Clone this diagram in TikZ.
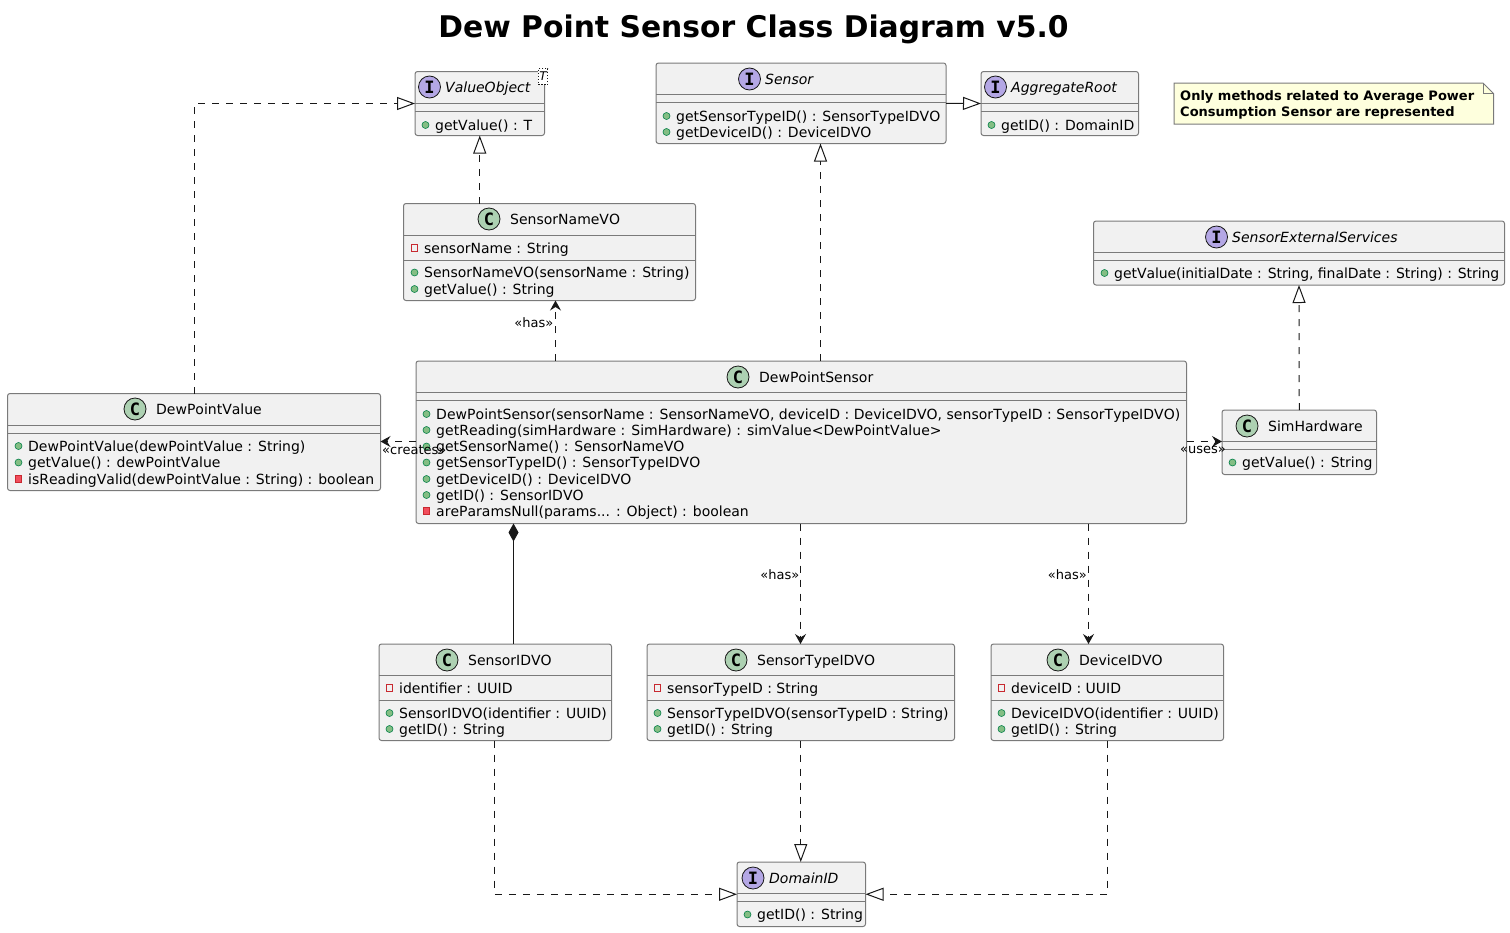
\documentclass[tikz,border=0pt]{standalone}
\usepackage{fontspec}
\setmainfont[Kerning=Off]{DejaVu Sans}
\setmonofont{DejaVu Sans Mono}
\usetikzlibrary{arrows.meta,fit}
\definecolor{boxfill}{HTML}{F1F1F1}
\definecolor{boxline}{HTML}{7A7A7A}
\definecolor{inkline}{HTML}{181818}
\definecolor{classicon}{HTML}{ADD1B2}
\definecolor{faceicon}{HTML}{B4A7E5}
\definecolor{pubfill}{HTML}{84BE84}
\definecolor{publine}{HTML}{038048}
\definecolor{privfill}{HTML}{F24D5C}
\definecolor{privline}{HTML}{C82930}
\definecolor{notefill}{HTML}{FEFFDD}
\tikzset{
  classbox/.style={draw=boxline,fill=boxfill,line width=1pt,rounded corners=2.5pt,inner sep=0pt,outer sep=0pt},
  sepline/.style={draw=boxline,line width=1pt},
  classicon/.style={circle,draw=inkline,fill=classicon,line width=0.8pt,minimum size=22pt,inner sep=0pt,font=\ttfamily\bfseries\fontsize{17}{17}\selectfont},
  faceicon/.style={classicon,fill=faceicon},
  headtext/.style={anchor=base west,inner sep=0pt,font=\fontsize{14}{16}\selectfont},
  facetext/.style={headtext,font=\fontsize{14}{16}\selectfont\itshape},
  membertext/.style={headtext},
  pubdot/.style={circle,draw=publine,fill=pubfill,line width=0.6pt,minimum size=7pt,inner sep=0pt},
  privfield/.style={rectangle,draw=privline,line width=0.8pt,minimum size=6.5pt,inner sep=0pt},
  privmethod/.style={privfield,fill=privfill},
  linkline/.style={draw=inkline,line width=1pt},
  linkdash/.style={linkline,dash pattern=on 7pt off 7pt},
  realizes/.style={linkdash,-{Triangle[open,fill=white,length=18pt,width=13pt]}},
  extends/.style={linkline,-{Triangle[open,fill=white,length=18pt,width=13pt]}},
  depends/.style={linkdash,-{Stealth[length=10pt,width=11pt,inset=3.5pt]}},
  owns/.style={linkline,{Diamond[length=18pt,width=10pt]}-},
  linklabel/.style={inner sep=0pt,font=\fontsize{13}{15}\selectfont},
  notetext/.style={anchor=base west,inner sep=0pt,font=\bfseries\fontsize{13}{15}\selectfont},
}
\newcommand{\classbox}[7]{%
  \node[classbox,fit={(#2,#3) (#4,#5)}] (#1) {};
  \draw[sepline] (#2,#6) -- (#4,#6);
  \draw[sepline] (#2,#7) -- (#4,#7);
}
\newcommand{\classhead}[5]{% name, x of icon, x of text, y, title
  \node[classicon] (#1-icon) at (#2,#4) {C};
  \node[headtext] (#1-head) at (#3,#4+5) {#5};
}
\newcommand{\facehead}[5]{%
  \node[faceicon] (#1-icon) at (#2,#4) {I};
  \node[facetext] (#1-head) at (#3,#4+5) {#5};
}
\newcommand{\member}[5]{% name, marker style, x of marker, y, text
  \node[#2] (#1-mark) at (#3,#4) {};
  \node[membertext] (#1) at (#3+9.5,#4+5) {#5};
}
\begin{document}
\begin{tikzpicture}[x=1pt,y=-1pt]
     \useasboundingbox (0,0) rectangle (1510,932);
     \node[inner sep=0pt,font=\bfseries\fontsize{29.8}{34}\selectfont] (title) at (753.5,29.5) {Dew Point Sensor Class Diagram v5.0};

     \classbox{ValueObject}{415}{71.5}{544.5}{135.5}{103}{111}
     \facehead{ValueObject}{429.5}{445}{87}{ValueObject}
     \member{vo1}{pubdot}{425.5}{125}{getValue() : T}
     \node[draw=inkline,fill=white,line width=0.7pt,dash pattern=on 1.5pt off 1.5pt,inner sep=0pt,minimum width=9.5pt,minimum height=16pt,font=\fontsize{12}{14}\selectfont\itshape] (vo-generic) at (543,76.5) {T};

     \classbox{Sensor}{656}{63}{946}{143.5}{94.5}{102.5}
     \facehead{Sensor}{749.5}{765}{79}{Sensor}
     \member{se1}{pubdot}{666.5}{116}{getSensorTypeID() : SensorTypeIDVO}
     \member{se2}{pubdot}{666.5}{132}{getDeviceID() : DeviceIDVO}

     \classbox{AggregateRoot}{981}{71.5}{1138.5}{135.5}{103}{111}
     \facehead{AggregateRoot}{995.5}{1011}{87}{AggregateRoot}
     \member{ar1}{pubdot}{991.5}{125}{getID() : DomainID}

     \classbox{SensorNameVO}{403.5}{203.5}{695.5}{300.5}{235.5}{260.5}
     \classhead{SensorNameVO}{489}{510}{219}{SensorNameVO}
     \member{sn1}{privfield}{414.5}{248}{sensorName : String}
     \member{sn2}{pubdot}{414.5}{272.5}{SensorNameVO(sensorName : String)}
     \member{sn3}{pubdot}{414.5}{289}{getValue() : String}

     \classbox{SensorExternalServices}{1093.5}{221}{1504.5}{285}{252.5}{260.5}
     \facehead{SensorExternalServices}{1216.5}{1232}{237}{SensorExternalServices}
     \member{ex1}{pubdot}{1104.5}{273}{\addfontfeature{LetterSpace=-0.5}getValue(initialDate : String, finalDate : String) : String}

     \classbox{DewPointSensor}{416}{361}{1186.5}{523.5}{392.5}{400.5}
     \classhead{DewPointSensor}{738}{759}{377}{DewPointSensor}
     \member{dp1}{pubdot}{426.5}{414}{\addfontfeature{LetterSpace=0.3}DewPointSensor(sensorName : SensorNameVO, deviceID : DeviceIDVO, sensorTypeID : SensorTypeIDVO)}
     \member{dp2}{pubdot}{426.5}{430}{\addfontfeature{LetterSpace=0.35}getReading(simHardware : SimHardware) : simValue<DewPointValue>}
     \member{dp3}{pubdot}{426.5}{446.5}{getSensorName() : SensorNameVO}
     \member{dp4}{pubdot}{426.5}{462.5}{getSensorTypeID() : SensorTypeIDVO}
     \member{dp5}{pubdot}{426.5}{479}{getDeviceID() : DeviceIDVO}
     \member{dp6}{pubdot}{426.5}{495}{getID() : SensorIDVO}
     \member{dp7}{privmethod}{426.5}{511}{areParamsNull(params... : Object) : boolean}

     \classbox{DewPointValue}{7.5}{393.5}{380.5}{490.5}{425.5}{433.5}
     \classhead{DewPointValue}{135}{156}{409}{DewPointValue}
     \member{dv1}{pubdot}{18.5}{446}{DewPointValue(dewPointValue : String)}
     \member{dv2}{pubdot}{18.5}{462.5}{getValue() : dewPointValue}
     \member{dv3}{privmethod}{18.5}{479}{isReadingValid(dewPointValue : String) : boolean}

     \classbox{SimHardware}{1222}{410}{1376.5}{474.5}{441.5}{449.5}
     \classhead{SimHardware}{1247}{1268}{426}{SimHardware}
     \member{si1}{pubdot}{1232.5}{462.5}{getValue() : String}

     \classbox{SensorIDVO}{379}{644}{611.5}{740.5}{675.5}{700.5}
     \classhead{SensorIDVO}{447}{468}{660}{SensorIDVO}
     \member{id1}{privfield}{389.5}{688}{identifier : UUID}
     \member{id2}{pubdot}{389.5}{713}{SensorIDVO(identifier : UUID)}
     \member{id3}{pubdot}{389.5}{729}{getID() : String}

     \classbox{SensorTypeIDVO}{647}{644}{954.5}{740.5}{675.5}{700.5}
     \classhead{SensorTypeIDVO}{736}{757}{660}{SensorTypeIDVO}
     \member{ty1}{privfield}{657.5}{688}{sensorTypeID : String}
     \member{ty2}{pubdot}{657.5}{713}{\addfontfeature{LetterSpace=0.35}SensorTypeIDVO(sensorTypeID : String)}
     \member{ty3}{pubdot}{657.5}{729}{getID() : String}

     \classbox{DeviceIDVO}{991}{644}{1223.5}{740.5}{675.5}{700.5}
     \classhead{DeviceIDVO}{1058}{1079}{660}{DeviceIDVO}
     \member{de1}{privfield}{1001.5}{688}{deviceID : UUID}
     \member{de2}{pubdot}{1001.5}{713}{DeviceIDVO(identifier : UUID)}
     \member{de3}{pubdot}{1001.5}{729}{getID() : String}

     \classbox{DomainID}{737}{862}{865.5}{926.5}{893.5}{901.5}
     \facehead{DomainID}{753}{769}{878}{DomainID}
     \member{do1}{pubdot}{747.5}{914.5}{getID() : String}

     % note
     \draw[draw=boxline,fill=notefill,line width=1pt] (1174,83) -- (1483,83) -- (1493.5,93.5) -- (1493.5,124) -- (1174,124) -- cycle;
     \draw[draw=boxline,line width=1pt] (1483,83) -- (1483,93.5) -- (1493.5,93.5);
     \node[notetext] (note1) at (1180,100) {Only methods related to Average Power};
     \node[notetext] (note2) at (1180,116) {Consumption Sensor are represented};

     % free ends of the links that miss the middle of a side
     \coordinate (sensorfoot) at (820.5,143.5);
     \coordinate (namefoot) at (555.5,300.5);
     \coordinate (ownsx) at (513.5,523.5);
     \coordinate (typex) at (800.5,523.5);
     \coordinate (devicex) at (1088.5,644);
     \coordinate (idfoot) at (494.5,740.5);
     \coordinate (linky) at (1186.5,441.5);

     \draw[realizes] (DewPointValue.north) |- (ValueObject.west);
     \draw[realizes] (SensorNameVO.north -| ValueObject.south) -- (ValueObject.south);
     \draw[realizes] (DewPointSensor.north -| sensorfoot) -- (sensorfoot);
     \draw[extends] (Sensor.east) -- (AggregateRoot.west);
     \draw[realizes] (SimHardware.north) -- (SensorExternalServices.south);
     \draw[realizes] (idfoot) |- (DomainID.west);
     \draw[realizes] (SensorTypeIDVO.south) -- (DomainID.north -| SensorTypeIDVO.south);
     \draw[realizes] (DeviceIDVO.south) |- (DomainID.east);

     \draw[depends] (DewPointSensor.north -| namefoot) -- (namefoot);
     \node[linklabel,anchor=east] (has-name) at (553.5,323) {«has»};
     \draw[depends] (DewPointSensor.west |- linky) -- (DewPointValue.east |- linky);
     \node[linklabel,anchor=west] (creates) at (382,450) {«creates»};
     \draw[depends] (linky) -- (SimHardware.west |- linky);
     \node[linklabel] (uses) at (1203,450) {«uses»};
     \draw[depends] (typex) -- (SensorTypeIDVO.north -| typex);
     \node[linklabel,anchor=east] (has-type) at (799.5,575) {«has»};
     \draw[depends] (DewPointSensor.south -| devicex) -- (devicex);
     \node[linklabel,anchor=east] (has-device) at (1087,575) {«has»};

     \draw[owns] (ownsx) -- (SensorIDVO.north -| ownsx);
\end{tikzpicture}
\end{document}
